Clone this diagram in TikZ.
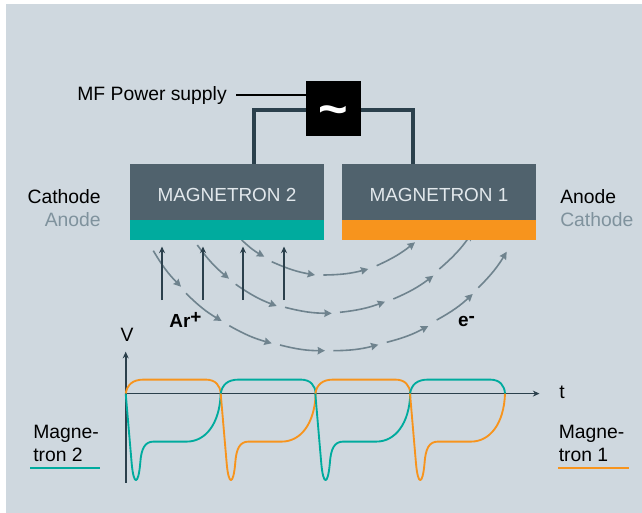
\documentclass[tikz,border=0pt]{standalone}
\usepackage{fontspec}
\setmainfont{Liberation Sans}
\usepackage{xcolor}
\usetikzlibrary{arrows.meta,positioning,calc}
\definecolor{panelgrey}{HTML}{CFD8DF}
\definecolor{slateblock}{HTML}{50626D}
\definecolor{wiredark}{HTML}{2B404C}
\definecolor{electrongrey}{HTML}{6F838E}
\definecolor{mag2teal}{HTML}{00AB9E}
\definecolor{mag1orange}{HTML}{F7941D}
\definecolor{softlabel}{HTML}{7F929D}

\begin{document}
\begin{tikzpicture}[
  x=0.75pt,
  y=-0.75pt,
  font=\fontsize{14.5pt}{17pt}\selectfont,
  >=Stealth,
  magbox/.style={
    fill=slateblock,
    text=panelgrey!60!white,
    font=\fontsize{14.2pt}{17pt}\selectfont,
    minimum width=145.5pt,
    minimum height=42pt,
    inner sep=0pt,
    outer sep=0pt,
    anchor=north west
  },
  magstrip/.style={
    minimum width=145.5pt,
    minimum height=15pt,
    inner sep=0pt,
    outer sep=0pt,
    anchor=north
  },
  sidelabel/.style={inner sep=0pt},
  wire/.style={draw=wiredark, line width=2.6pt},
  ionarrow/.style={
    draw=wiredark, line width=1.1pt,
    -{Stealth[length=5pt,width=4.5pt]}
  },
  electron/.style={
    draw=electrongrey, line width=1.2pt,
    -{Stealth[length=5.5pt,width=5.5pt,inset=0.5pt]}
  },
  trace/.style={line width=1.4pt, line join=round},
  axis/.style={draw=wiredark, line width=1.2pt, -{Stealth[length=5pt,width=4.5pt]}}
]

  % background
  \useasboundingbox (0,0) rectangle (642,513);
  \fill[white] (0,0) rectangle (642,513);
  \fill[panelgrey] (6,4) rectangle (642,513);

  % ---------------------------------------------------------------------------
  % ELECTRONS (under the magnetrons)
  % ---------------------------------------------------------------------------
  \foreach \sx/\sy/\ex/\ey in {
    241.7/240/264.3/256.7, 271.7/261.7/315/275, 323.3/275/368.3/269, 376.7/265.7/415/242.3,
    197.3/245/229/278.7, 235.7/284.3/276.7/306, 285/307.3/331.7/313.3, 340/312.3/385/301.7,
    393.3/299/433.3/275.7, 439.3/269/472/233,
    153.3/250.7/181/286.7, 186/293.3/221.7/321, 229.3/325.7/271.7/343.3, 280/345/325/350.7,
    333.3/350.7/378.3/344.7, 386.7/342.3/428.3/326, 436.7/320/472.7/294, 478.3/287.7/506.7/251.7} {
    \coordinate (dashstart) at (\sx,\sy);
    \coordinate (dashtip) at (\ex,\ey);
    \draw[electron] (dashstart) to[bend right=7] (dashtip);
  }

  % ---------------------------------------------------------------------------
  % MAGNETRONS
  % ---------------------------------------------------------------------------
  \node[magbox] (mag2) at (130,164) {\raisebox{-7.35pt}[0pt][0pt]{MAGNETRON 2}};
  \node[magbox] (mag1) at (342,164) {\raisebox{-7.35pt}[0pt][0pt]{MAGNETRON 1}};
  \node[magstrip, fill=mag2teal, below=0pt of mag2] (strip2) {};
  \node[magstrip, fill=mag1orange, below=0pt of mag1] (strip1) {};

  % ---------------------------------------------------------------------------
  % POWER SUPPLY
  % ---------------------------------------------------------------------------
  \coordinate (wireleft) at (254,164);
  \coordinate (wireright) at (413,164);
  \draw[wire] (wireleft) |- (333,110) -| (wireright);
  \node[fill=black, minimum size=41.25pt, inner sep=0pt, text=white, font=\fontsize{38pt}{38pt}\bfseries\selectfont] (supply) at (333.5,108.5) {\raisebox{-13.6pt}[0pt][0pt]{\textasciitilde}};
  \node[anchor=base east, inner sep=0pt] (supplylabel) at (227,100.7) {MF Power supply};
  \coordinate (supplytick) at (236,95);
  \draw[black, line width=0.8pt] (supplytick) -- (supply.west |- supplytick);

  % side labels
  \node[sidelabel, anchor=base east] (cath2) at (101,204) {Cathode};
  \node[sidelabel, anchor=base east, text=softlabel] (anod2) at (101,226.7) {Anode};
  \node[sidelabel, anchor=base west] (anod1) at (560,204) {Anode};
  \node[sidelabel, anchor=base west, text=softlabel] (cath1) at (560,226.7) {Cathode};

  % ---------------------------------------------------------------------------
  % IONS
  % ---------------------------------------------------------------------------
  \foreach \ionx in {162,203,243,284} {
    \coordinate (ionfoot) at (\ionx,300);
    \coordinate (iontip) at (\ionx,246.5);
    \draw[ionarrow] (ionfoot) -- (iontip);
  }
  \node[font=\fontsize{14.2pt}{17pt}\bfseries\selectfont, inner sep=0pt] (ion) at (185.5,320) {Ar\raisebox{2.5pt}{+}};
  \node[font=\fontsize{14.2pt}{17pt}\bfseries\selectfont, inner sep=0pt] (elec) at (466.5,321) {e\raisebox{3pt}{-}};

  % ---------------------------------------------------------------------------
  % VOLTAGE PLOT
  % ---------------------------------------------------------------------------
  \coordinate (origin) at (125.7,393.6);
  \coordinate (vtop) at (125.7,351.7);
  \coordinate (vbottom) at (125.7,482.7);
  \coordinate (tend) at (539.5,393.6);
  \draw[axis] (vbottom) -- (vtop);
  \draw[axis] (origin) -- (tend);
  \node[inner sep=0pt] (vlabel) at (127,335) {V};
  \node[inner sep=0pt] (tlabel) at (562,392) {t};

  \foreach \px/\hi/\lo in {125.7/mag1orange/mag2teal,220.7/mag2teal/mag1orange,315.3/mag1orange/mag2teal,410/mag2teal/mag1orange} {
    \begin{scope}[shift={(\px,393.6)}]
      % high half period
      \draw[trace, \hi] (0,0) .. controls (1.5,-9) and (7,-14) .. (18,-14)
        -- (80,-14) .. controls (90,-14) and (94.5,-8) .. (95,0);
      % low half period
      \draw[trace, \lo] (0,0) -- (6,70) .. controls (8,92) and (12.5,92) .. (14.5,70)
        .. controls (15.5,55) and (19,48) .. (28,48) -- (61,48)
        .. controls (80,48) and (94,30) .. (95,0);
    \end{scope}
  }

  % ---------------------------------------------------------------------------
  % MAGNETRON KEY
  % ---------------------------------------------------------------------------
  \node[sidelabel, align=left, anchor=west, font=\fontsize{14.5pt}{17.25pt}\selectfont] (key2) at (33,443) {Magne-\\tron 2};
  \node[sidelabel, align=left, anchor=west, font=\fontsize{14.5pt}{17.25pt}\selectfont] (key1) at (558.5,443) {Magne-\\tron 1};
  \coordinate (key2a) at (30,468);
  \coordinate (key2b) at (100,468);
  \coordinate (key1a) at (558,468);
  \coordinate (key1b) at (629,468);
  \draw[mag2teal, line width=1.2pt] (key2a) -- (key2b);
  \draw[mag1orange, line width=1.2pt] (key1a) -- (key1b);

\end{tikzpicture}
\end{document}
